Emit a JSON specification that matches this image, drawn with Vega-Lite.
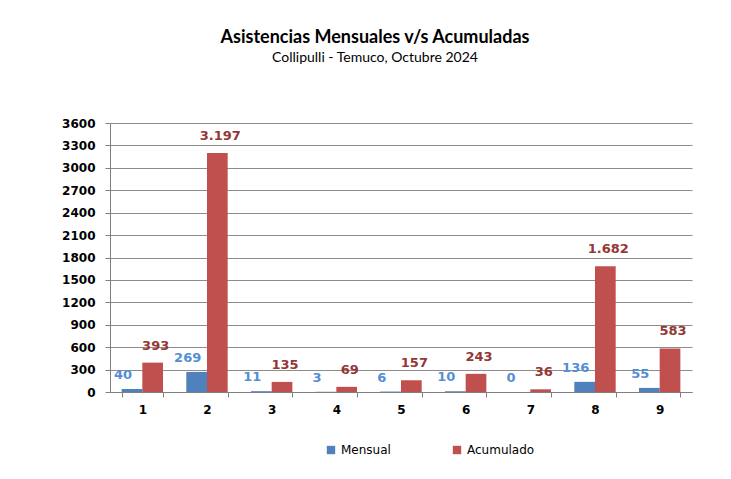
{
  "$schema": "https://vega.github.io/schema/vega-lite/v6.json",
  "autosize": "none",
  "width": 582,
  "height": 269,
  "padding": {"left": 110, "top": 123, "right": 39, "bottom": 87},
  "background": "white",
  "config": {
    "view": {"stroke": null},
    "locale": {"number": {"decimal": ",", "thousands": ".", "grouping": [3], "currency": ["$", ""]}}
  },
  "title": {
    "text": "Asistencias Mensuales v/s Acumuladas",
    "subtitle": "Collipulli - Temuco,  Octubre 2024",
    "font": "Lato",
    "fontSize": 18,
    "fontWeight": "bold",
    "color": "#000000",
    "subtitleFont": "Lato",
    "subtitleFontSize": 14,
    "subtitleColor": "#000000",
    "subtitlePadding": 4,
    "anchor": "middle",
    "frame": "group",
    "dx": -26,
    "offset": 52
  },
  "data": {
    "values": [
      {"mes": "1", "serie": "Mensual", "valor": 40},
      {"mes": "1", "serie": "Acumulado", "valor": 393},
      {"mes": "2", "serie": "Mensual", "valor": 269},
      {"mes": "2", "serie": "Acumulado", "valor": 3197},
      {"mes": "3", "serie": "Mensual", "valor": 11},
      {"mes": "3", "serie": "Acumulado", "valor": 135},
      {"mes": "4", "serie": "Mensual", "valor": 3},
      {"mes": "4", "serie": "Acumulado", "valor": 69},
      {"mes": "5", "serie": "Mensual", "valor": 6},
      {"mes": "5", "serie": "Acumulado", "valor": 157},
      {"mes": "6", "serie": "Mensual", "valor": 10},
      {"mes": "6", "serie": "Acumulado", "valor": 243},
      {"mes": "7", "serie": "Mensual", "valor": 0},
      {"mes": "7", "serie": "Acumulado", "valor": 36},
      {"mes": "8", "serie": "Mensual", "valor": 136},
      {"mes": "8", "serie": "Acumulado", "valor": 1682},
      {"mes": "9", "serie": "Mensual", "valor": 55},
      {"mes": "9", "serie": "Acumulado", "valor": 583}
    ]
  },
  "encoding": {
    "x": {
      "field": "mes", "type": "nominal", "sort": null,
      "scale": {"paddingInner": 0.36, "paddingOuter": 0.18},
      "axis": {
        "title": null, "labelAngle": 0, "tickBand": "extent",
        "labelFont": "DejaVu Sans", "labelFontSize": 12, "labelFontWeight": "bold",
        "labelColor": "#000000", "domainColor": "#808080", "tickColor": "#808080",
        "tickSize": 5, "labelPadding": 7
      }
    },
    "y": {
      "field": "valor", "type": "quantitative",
      "scale": {"domain": [0, 3600]},
      "axis": {
        "title": null, "values": [0, 300, 600, 900, 1200, 1500, 1800, 2100, 2400, 2700, 3000, 3300, 3600],
        "format": "d",
        "labelFont": "DejaVu Sans", "labelFontSize": 12, "labelFontWeight": "bold",
        "labelColor": "#000000", "domainColor": "#808080", "tickColor": "#808080",
        "gridColor": "#8c8c8c", "gridWidth": 1, "tickSize": 5, "labelPadding": 10
      }
    },
    "xOffset": {"field": "serie", "type": "nominal", "sort": ["Mensual", "Acumulado"]}
  },
  "layer": [
    {
      "mark": {"type": "bar", "stroke": null},
      "encoding": {
        "color": {
          "field": "serie", "type": "nominal", "sort": ["Mensual", "Acumulado"],
          "scale": {"domain": ["Mensual", "Acumulado"], "range": ["#4F81BD", "#C0504D"]},
          "legend": {
            "title": null, "orient": "none", "direction": "horizontal",
            "legendX": 215, "legendY": 321,
            "symbolType": "square", "symbolSize": 70, "symbolStrokeWidth": 0,
            "labelFont": "DejaVu Sans", "labelFontSize": 12, "labelColor": "#000000",
            "columnPadding": 60, "labelOffset": 4
          }
        }
      }
    },
    {
      "transform": [{"filter": "datum.serie === 'Mensual'"}],
      "mark": {"type": "text", "baseline": "bottom", "dy": -7, "dx": -9, "fontSize": 13, "fontWeight": "bold", "font": "DejaVu Sans", "color": "#558ED5"},
      "encoding": {
        "text": {"field": "valor", "type": "quantitative", "format": ",d"}
      }
    },
    {
      "transform": [{"filter": "datum.serie === 'Acumulado'"}],
      "mark": {"type": "text", "baseline": "bottom", "dy": -10, "dx": 3, "fontSize": 13, "fontWeight": "bold", "font": "DejaVu Sans", "color": "#953735"},
      "encoding": {
        "text": {"field": "valor", "type": "quantitative", "format": ",d"}
      }
    }
  ]
}
